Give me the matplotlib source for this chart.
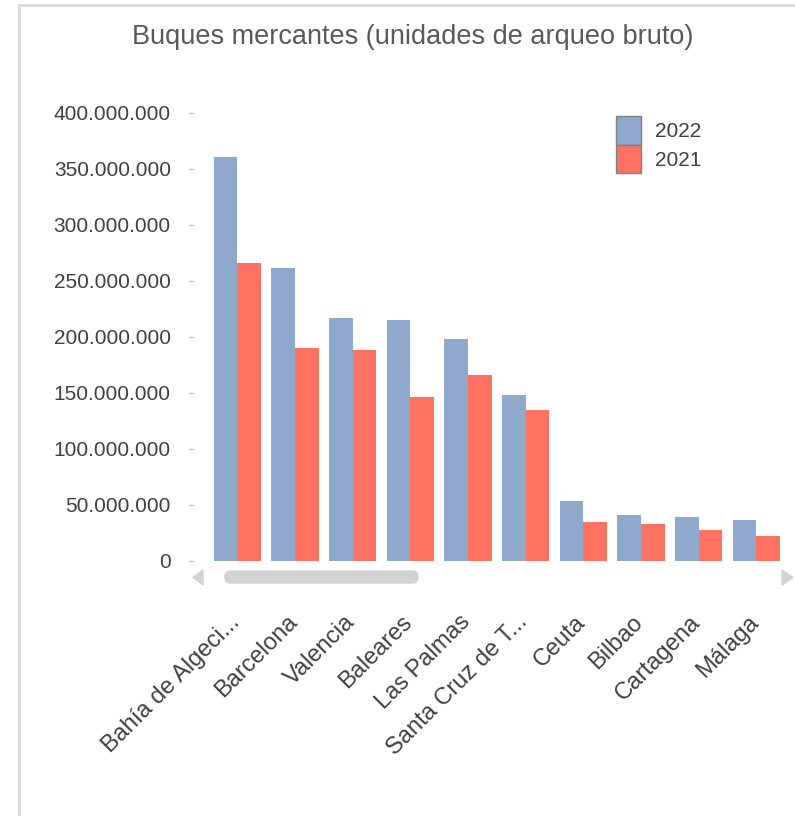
import matplotlib.pyplot as plt
import numpy as np
from matplotlib.patches import FancyBboxPatch, Polygon
from matplotlib.lines import Line2D
from matplotlib.ticker import FuncFormatter
from matplotlib.transforms import ScaledTranslation

# Puertos y arqueo bruto por año
puertos = ['Bahía de Algeci...', 'Barcelona', 'Valencia', 'Baleares', 'Las Palmas',
           'Santa Cruz de T...', 'Ceuta', 'Bilbao', 'Cartagena', 'Málaga']
gt_2022 = [361e6, 262e6, 217e6, 215e6, 198e6, 148e6, 54e6, 41e6, 39e6, 36.5e6]
gt_2021 = [266e6, 190e6, 188e6, 146e6, 166e6, 135e6, 35e6, 33e6, 28e6, 22e6]
yticks = [0, 50e6, 100e6, 150e6, 200e6, 250e6, 300e6, 350e6, 400e6]

azul = '#8EA9CB'
rojo = '#FF7262'
gris_txt = '#404040'

plt.rcParams['font.family'] = ['Liberation Sans', 'DejaVu Sans']

fig = plt.figure(figsize=(7.95, 8.16), dpi=100)
ax = fig.add_axes([193 / 795, 1 - 561 / 816, (785 - 193) / 795, (561 - 113) / 816])

x = np.arange(len(puertos))
w = 0.41
ax.bar(x - w / 2, gt_2022, w, color=azul, label='2022')
ax.bar(x + w / 2, gt_2021, w, color=rojo, label='2021')

ax.set_xlim(-0.77, 9.5)
ax.set_ylim(0, 400e6)
ax.set_yticks(yticks)
ax.yaxis.set_major_formatter(FuncFormatter(lambda v, p: f'{int(v):,}'.replace(',', '.')))
for s in ax.spines.values():
    s.set_visible(False)
ax.tick_params(axis='y', length=3, width=1, color='#C0C0C0', pad=13,
               labelsize=15, labelcolor=gris_txt)
ax.set_xticks(x)
ax.set_xticklabels(puertos, rotation=45, ha='right', rotation_mode='anchor',
                   fontsize=17, color=gris_txt)
ax.tick_params(axis='x', length=0, pad=36)
desplaza = ScaledTranslation(-9 / 100, 0, fig.dpi_scale_trans)
for lab in ax.get_xticklabels():
    lab.set_transform(lab.get_transform() + desplaza)

# leyenda
ax.legend(loc='upper left', bbox_to_anchor=(597 / 795, 1 - 97 / 816),
          bbox_transform=fig.transFigure, frameon=False, fontsize=15,
          handlelength=1.2, handleheight=1.75, labelspacing=0, handletextpad=0.7,
          labelcolor=gris_txt)
for h in ax.get_legend().legend_handles:
    h.set_edgecolor('#808080')
    h.set_linewidth(1)

fig.text(413 / 795, 1 - 37 / 816, 'Buques mercantes (unidades de arqueo bruto)',
         ha='center', va='center', fontsize=19.5, color='#595959')

# barra de desplazamiento
def fx(px):
    return px / 795

def fy(py):
    return 1 - py / 816

fig.patches.append(FancyBboxPatch((fx(225), fy(583)), fx(418) - fx(225), fy(571) - fy(583),
                                  boxstyle='round,pad=0,rounding_size=0.007',
                                  transform=fig.transFigure, color='#D3D3D3'))
fig.patches.append(Polygon([(fx(203), fy(570)), (fx(203), fy(585)), (fx(193), fy(577.5))],
                           closed=True, transform=fig.transFigure, color='#D3D3D3'))
fig.patches.append(Polygon([(fx(782), fy(570)), (fx(782), fy(585)), (fx(793), fy(577.5))],
                           closed=True, transform=fig.transFigure, color='#D3D3D3'))

# marco
fig.add_artist(Line2D([fx(19), fx(19)], [0, fy(5)], transform=fig.transFigure,
                      color='#D9D9D9', lw=2))
fig.add_artist(Line2D([fx(19), 1], [fy(5), fy(5)], transform=fig.transFigure,
                      color='#D9D9D9', lw=2))

fig.savefig('out.png', dpi=100)
